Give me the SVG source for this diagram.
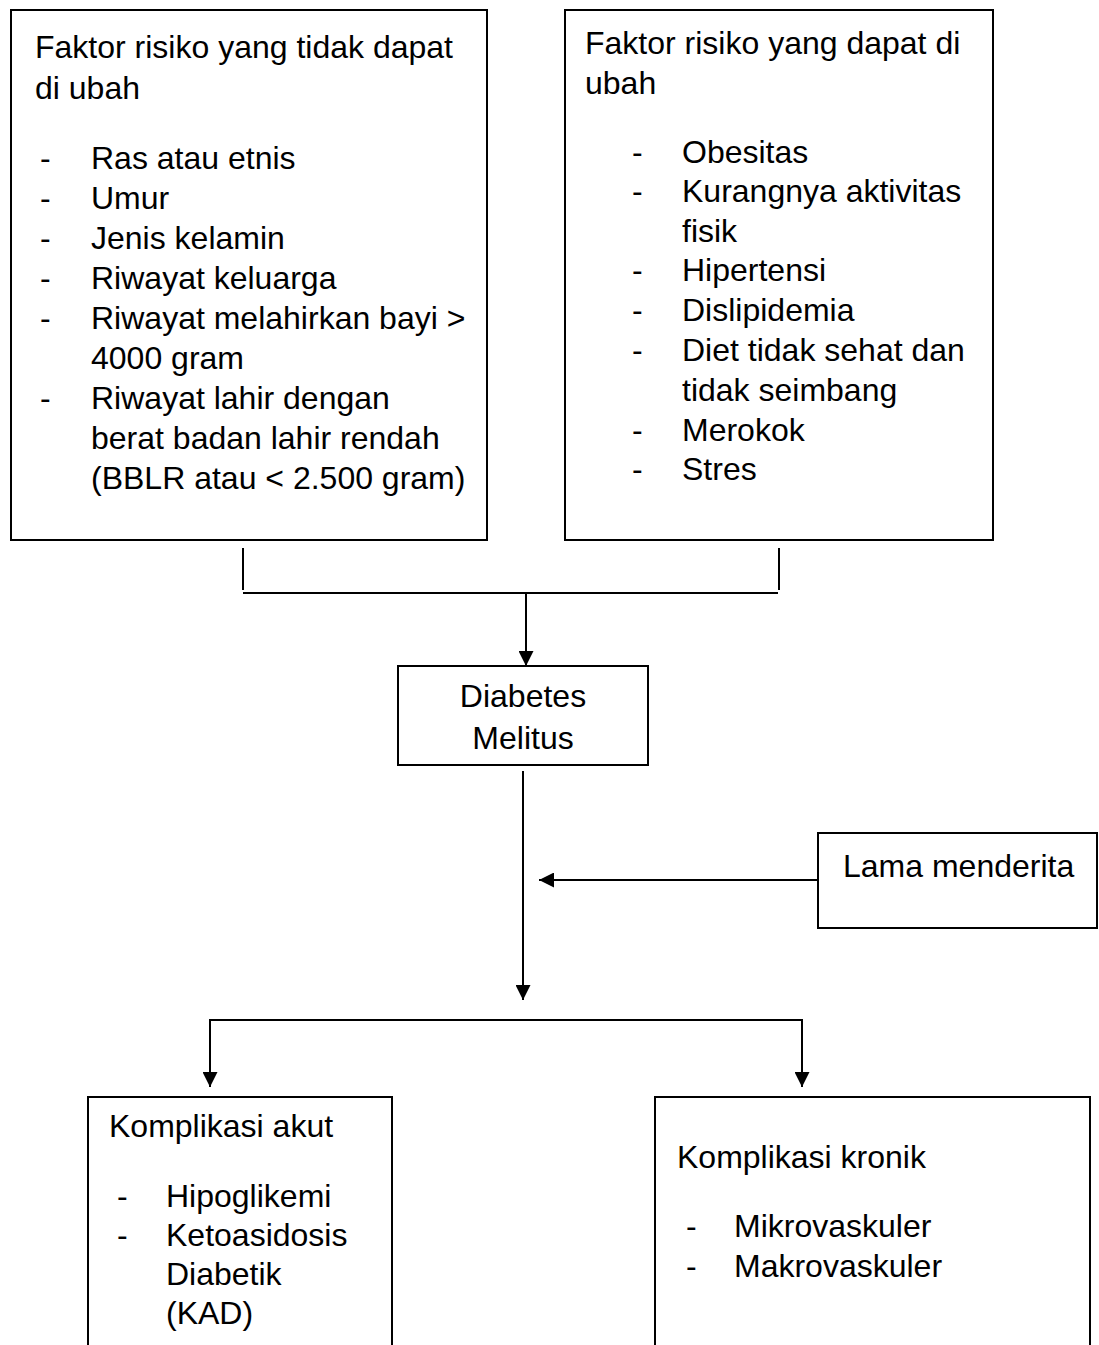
<svg xmlns="http://www.w3.org/2000/svg" width="1099" height="1345" viewBox="0 0 1099 1345">
<defs>
<style>
.box{fill:#fff;stroke:#000;stroke-width:2}
.ln{fill:none;stroke:#000;stroke-width:2}
text{font-family:"Liberation Sans",Arial,sans-serif;font-size:32px;fill:#000}
.c{text-anchor:middle}
</style>
<marker id="ah" viewBox="0 0 15 15" refX="15" refY="7.5" markerWidth="15" markerHeight="15" markerUnits="userSpaceOnUse" orient="auto">
<path d="M0,0 L15,7.5 L0,15 Z" fill="#000"/>
</marker>
</defs>
<rect width="1099" height="1345" fill="#fff"/>

<g id="node-tidak-dapat">
<rect class="box" x="11" y="10" width="476" height="530"/>
<text x="35" y="58">Faktor risiko yang tidak dapat</text>
<text x="35" y="99">di ubah</text>
<text x="40" y="169">-</text><text x="91" y="169">Ras atau etnis</text>
<text x="40" y="209">-</text><text x="91" y="209">Umur</text>
<text x="40" y="249">-</text><text x="91" y="249">Jenis kelamin</text>
<text x="40" y="289">-</text><text x="91" y="289">Riwayat keluarga</text>
<text x="40" y="329">-</text><text x="91" y="329">Riwayat melahirkan bayi &gt;</text>
<text x="91" y="369">4000 gram</text>
<text x="40" y="409">-</text><text x="91" y="409">Riwayat lahir dengan</text>
<text x="91" y="449">berat badan lahir rendah</text>
<text x="91" y="489">(BBLR atau &lt; 2.500 gram)</text>
</g>

<g id="node-dapat">
<rect class="box" x="565" y="10" width="428" height="530"/>
<text x="585" y="54">Faktor risiko yang dapat di</text>
<text x="585" y="94">ubah</text>
<text x="632" y="163">-</text><text x="682" y="163">Obesitas</text>
<text x="632" y="202">-</text><text x="682" y="202">Kurangnya aktivitas</text>
<text x="682" y="242">fisik</text>
<text x="632" y="281">-</text><text x="682" y="281">Hipertensi</text>
<text x="632" y="321">-</text><text x="682" y="321">Dislipidemia</text>
<text x="632" y="361">-</text><text x="682" y="361">Diet tidak sehat dan</text>
<text x="682" y="401">tidak seimbang</text>
<text x="632" y="441">-</text><text x="682" y="441">Merokok</text>
<text x="632" y="480">-</text><text x="682" y="480">Stres</text>
</g>

<g id="node-dm">
<rect class="box" x="398" y="666" width="250" height="99"/>
<text class="c" x="523" y="707">Diabetes</text>
<text class="c" x="523" y="749">Melitus</text>
</g>

<g id="node-lama">
<rect class="box" x="818" y="833" width="279" height="95"/>
<text x="843" y="877">Lama menderita</text>
</g>

<g id="node-akut">
<path class="ln" d="M88,1345 V1097 H392 V1345"/>
<text x="109" y="1137">Komplikasi akut</text>
<text x="117" y="1207">-</text><text x="166" y="1207">Hipoglikemi</text>
<text x="117" y="1246">-</text><text x="166" y="1246">Ketoasidosis</text>
<text x="166" y="1285">Diabetik</text>
<text x="166" y="1324">(KAD)</text>
</g>

<g id="node-kronik">
<path class="ln" d="M655,1345 V1097 H1090 V1345"/>
<text x="677" y="1168">Komplikasi kronik</text>
<text x="686" y="1237">-</text><text x="734" y="1237">Mikrovaskuler</text>
<text x="686" y="1277">-</text><text x="734" y="1277">Makrovaskuler</text>
</g>

<g id="connectors">
<line class="ln" x1="243" y1="548" x2="243" y2="590"/>
<line class="ln" x1="779" y1="548" x2="779" y2="590"/>
<line class="ln" x1="243" y1="593" x2="778" y2="593"/>
<line class="ln" x1="526" y1="593" x2="526" y2="666" marker-end="url(#ah)"/>
<line class="ln" x1="523" y1="771" x2="523" y2="1000" marker-end="url(#ah)"/>
<line class="ln" x1="818" y1="880" x2="539" y2="880" marker-end="url(#ah)"/>
<path class="ln" d="M210,1075 V1020 H802 V1075"/>
<line class="ln" x1="210" y1="1060" x2="210" y2="1087" marker-end="url(#ah)"/>
<line class="ln" x1="802" y1="1060" x2="802" y2="1087" marker-end="url(#ah)"/>
</g>
</svg>
